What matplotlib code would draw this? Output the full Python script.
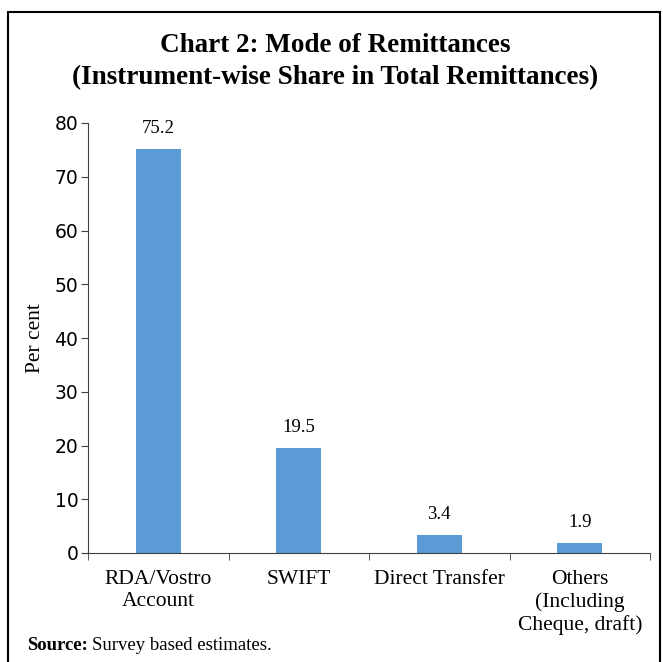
import numpy as np
import matplotlib.pyplot as plt
from matplotlib.patches import Rectangle

# Datos
categorias = ['RDA/Vostro\nAccount', 'SWIFT', 'Direct Transfer', 'Others\n(Including\nCheque, draft)']
valores = [75.2, 19.5, 3.4, 1.9]
etiquetas = ['75.2', '19.5', '3.4', '1.9']
yticks = [0, 10, 20, 30, 40, 50, 60, 70, 80]

W, H = 663, 662
serif = 'Liberation Serif'
fig = plt.figure(figsize=(W / 100, H / 100), dpi=100)
ax = fig.add_axes([88 / W, 1 - 553 / H, (650 - 88) / W, (553 - 123) / H])

x = np.arange(len(valores))
ax.bar(x, valores, width=0.32, color='#5B9BD5')
for xi, v, t in zip(x, valores, etiquetas):
    ax.text(xi, v + 2.2, t, ha='center', va='bottom', fontsize=13.5, family=serif)

ax.set_xlim(-0.5, len(valores) - 0.5)
ax.set_ylim(0, 80)
ax.set_yticks(yticks)
ax.tick_params(axis='y', labelsize=13.5, length=5, color='#404040', pad=2)
ax.set_xticks(x)
ax.set_xticklabels(categorias, family=serif, fontsize=15.5, linespacing=1.22)
ax.tick_params(axis='x', length=0, pad=12)
# ticks entre categorias
ax.set_xticks(np.arange(-0.5, len(valores)), minor=True)
ax.tick_params(axis='x', which='minor', length=5, color='#404040')

for s in ['top', 'right']:
    ax.spines[s].set_visible(False)
ax.spines['left'].set_color('#404040')
ax.spines['bottom'].set_color('#404040')
ax.set_ylabel('Per cent', family=serif, fontsize=15.5, labelpad=7)

# Titulo
fig.text(335 / W, 1 - 46 / H, 'Chart 2: Mode of Remittances', ha='center', va='center',
         fontsize=19.5, fontweight='bold', family=serif)
fig.text(335 / W, 1 - 78 / H, '(Instrument-wise Share in Total Remittances)', ha='center',
         va='center', fontsize=19.5, fontweight='bold', family=serif)

# Fuente
src = fig.text(27 / W, 1 - 645 / H, 'Source:', ha='left', va='center',
               fontsize=13.5, fontweight='bold', family=serif)
fig.canvas.draw()
bb = src.get_window_extent()
fig.text(bb.x1 / W + 4 / W, 1 - 645 / H, 'Survey based estimates.', ha='left', va='center',
         fontsize=13.5, family=serif)

# Marco
fig.add_artist(Rectangle((8 / W, -0.05), (660 - 8) / W, 1.05 - 12 / H, transform=fig.transFigure,
                         fill=False, edgecolor='black', linewidth=1.5))

plt.savefig('out.png', dpi=100)
